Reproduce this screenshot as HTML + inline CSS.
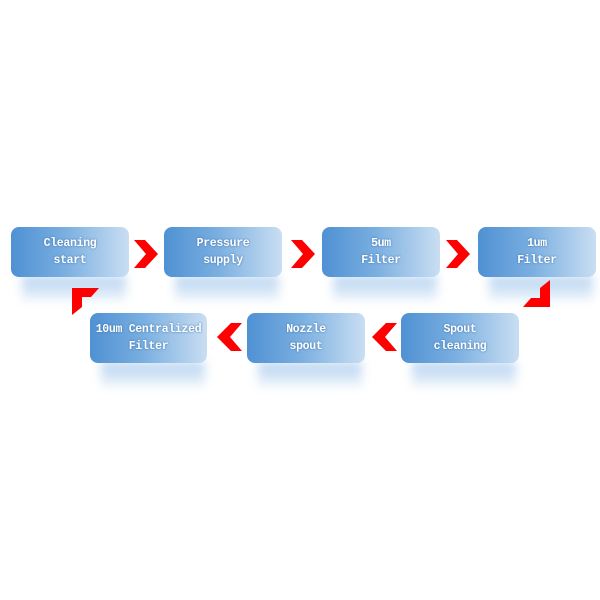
<!DOCTYPE html>
<html><head><style>
body{margin:0;width:600px;height:600px;background:#fff;position:relative;overflow:hidden}
.b{position:absolute;width:118px;height:50px;border-radius:8px;background:linear-gradient(90deg,#4f91d3 0%,#79aee0 45%,#c9def2 100%);color:#fff;font:bold 11.5px/17px "Liberation Mono",monospace;text-align:center;display:flex;align-items:center;justify-content:center;text-shadow:0 0 2px #3a6fa8;white-space:nowrap;letter-spacing:-0.3px}
.r{position:absolute;width:104px;height:24px;background:linear-gradient(180deg,#a9cbee,#e8f1fa);filter:blur(5px);opacity:.85}
svg{position:absolute;left:0;top:0}
</style></head><body>
<div class="r" style="left:22px;top:276px"></div>
<div class="r" style="left:175px;top:276px"></div>
<div class="r" style="left:333px;top:276px"></div>
<div class="r" style="left:489px;top:276px"></div>
<div class="r" style="left:101px;top:362px"></div>
<div class="r" style="left:258px;top:362px"></div>
<div class="r" style="left:412px;top:362px"></div>
<div class="b" style="left:11px;top:227px">Cleaning<br>start</div>
<div class="b" style="left:164px;top:227px">Pressure<br>supply</div>
<div class="b" style="left:322px;top:227px">5um<br>Filter</div>
<div class="b" style="left:478px;top:227px">1um<br>Filter</div>
<div class="b" style="left:90px;top:313px;width:117px">10um Centralized<br>Filter</div>
<div class="b" style="left:247px;top:313px">Nozzle<br>spout</div>
<div class="b" style="left:401px;top:313px">Spout<br>cleaning</div>
<svg width="600" height="600">
<g fill="#f00">
<polygon points="134,240 145,240 158,254 145,268 134,268 146,254"/>
<polygon points="291,240 302,240 315,254 302,268 291,268 303,254"/>
<polygon points="446,240 457,240 470,254 457,268 446,268 458,254"/>
<polygon points="242,323 231,323 217,337 231,351 242,351 230,337"/>
<polygon points="397,323 386,323 372,337 386,351 397,351 385,337"/>
<polygon points="72,288 99,288 91,297 82,297 82,307 72,315"/>
<polygon points="550,307 523,307 531,298 540,298 540,288 550,280"/>
</g>
</svg>
</body></html>
